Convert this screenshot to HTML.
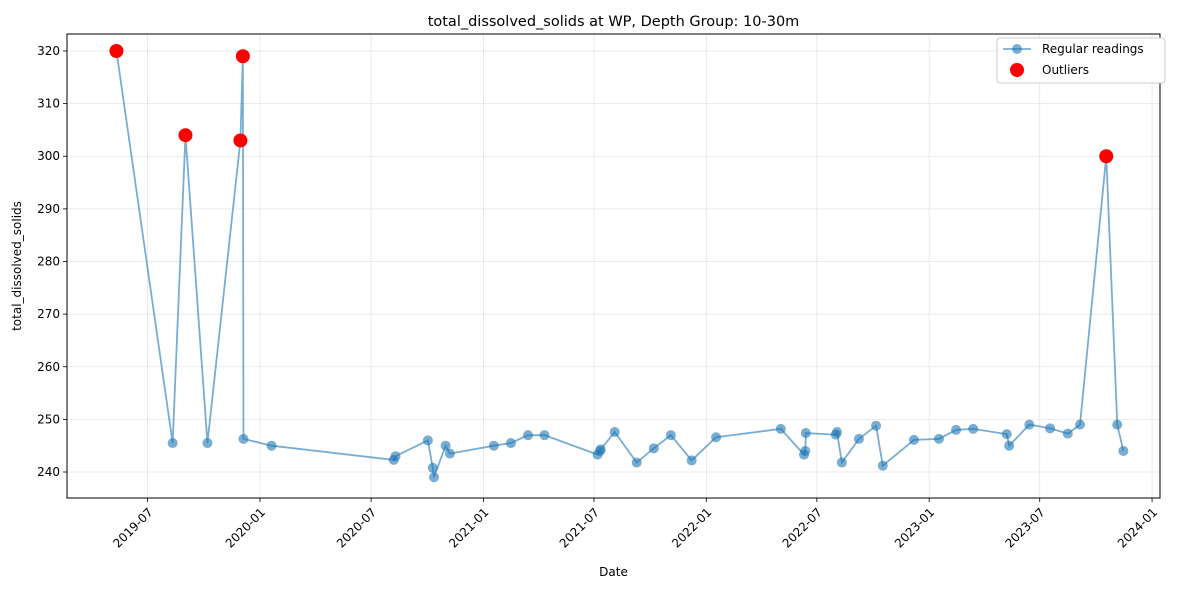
<!DOCTYPE html>
<html><head><meta charset="utf-8"><style>
body{margin:0;background:#fff;font-family:"Liberation Sans","DejaVu Sans",sans-serif}
text{font-family:"DejaVu Sans","Liberation Sans",sans-serif}
</style></head><body>
<svg id="chart" width="1186" height="589" xmlns="http://www.w3.org/2000/svg"></svg>
<script>
const dates=["2019-05-11","2019-08-11","2019-09-01","2019-10-07","2019-11-30","2019-12-04","2019-12-05","2020-01-20","2020-08-07","2020-08-10","2020-10-02","2020-10-10","2020-10-12","2020-10-31","2020-11-07","2021-01-18","2021-02-15","2021-03-15","2021-04-11","2021-07-07","2021-07-11","2021-07-12","2021-08-04","2021-09-09","2021-10-07","2021-11-04","2021-12-08","2022-01-17","2022-05-03","2022-06-10","2022-06-12","2022-06-13","2022-08-01","2022-08-03","2022-08-11","2022-09-08","2022-10-06","2022-10-17","2022-12-07","2023-01-17","2023-02-14","2023-03-14","2023-05-08","2023-05-12","2023-06-14","2023-07-18","2023-08-16","2023-09-05","2023-10-18","2023-11-05","2023-11-15"];
const values=[320,245.5,304,245.5,303,319,246.3,245,242.3,243,246,240.8,239,245,243.5,245,245.5,247,247,243.3,244,244.3,247.6,241.8,244.5,247,242.2,246.6,248.2,243.3,244,247.4,247.1,247.6,241.8,246.3,248.8,241.2,246.1,246.3,248,248.2,247.2,245,249,248.3,247.3,249,300,249,244];
const outlierFlags=[1,0,1,0,1,1,0,0,0,0,0,0,0,0,0,0,0,0,0,0,0,0,0,0,0,0,0,0,0,0,0,0,0,0,0,0,0,0,0,0,0,0,0,0,0,0,0,0,1,0,0];
const xTicks=["2019-07","2020-01","2020-07","2021-01","2021-07","2022-01","2022-07","2023-01","2023-07","2024-01"];
const yTicks=[240,250,260,270,280,290,300,310,320];

const svg=document.getElementById('chart');const NS="http://www.w3.org/2000/svg";
const L=67,R=1160,T=34,B=498;
const t0=Date.parse("2019-02-19"),t1=Date.parse("2024-01-14");
const xs=d=>L+(Date.parse(d.length==7?d+"-01":d)-t0)/(t1-t0)*(R-L);
const y0=235.06,y1=323.23;
const ys=v=>B-(v-y0)/(y1-y0)*(B-T);
function el(tag,a,p){const e=document.createElementNS(NS,tag);for(const k in a)e.setAttribute(k,a[k]);(p||svg).appendChild(e);return e;}
function txt(s,a){const e=el('text',a);e.textContent=s;return e;}
el('rect',{x:0,y:0,width:1186,height:589,fill:'#fff'});
const grid=el('g',{});
xTicks.forEach(t=>{const x=xs(t);
 el('line',{x1:x,x2:x,y1:T,y2:B,stroke:'#e5e5e5','stroke-width':0.8},grid);
 el('line',{x1:x,x2:x,y1:B,y2:B+4,stroke:'#000','stroke-width':0.8});
 const lb=txt(t,{x:0,y:0,'font-size':12,'text-anchor':'end',transform:`translate(${x+6},${B+15}) rotate(-45)`,fill:'#000'});
 });
yTicks.forEach(v=>{const y=ys(v);
 el('line',{x1:L,x2:R,y1:y,y2:y,stroke:'#e5e5e5','stroke-width':0.8},grid);
 el('line',{x1:L-4,x2:L,y1:y,y2:y,stroke:'#000','stroke-width':0.8});
 const lb=txt(String(v),{x:L-7,y:y+4,'font-size':12,'text-anchor':'end',fill:'#000'});
 });
const pts=dates.map((d,i)=>[xs(d),ys(values[i])]);
const line=el('polyline',{points:pts.map(p=>p.join(',')).join(' '),fill:'none',stroke:'#1f77b4','stroke-opacity':0.6,'stroke-width':1.8});

pts.forEach(p=>{const c=el('circle',{cx:p[0],cy:p[1],r:5,fill:'#1f77b4','fill-opacity':0.6});
 });
pts.forEach((p,i)=>{if(outlierFlags[i]){const c=el('circle',{cx:p[0],cy:p[1],r:7,fill:'#ff0000'});
 }});
const fr=el('rect',{x:L,y:T,width:R-L,height:B-T,fill:'none',stroke:'#000','stroke-width':1});

const ti=txt('total_dissolved_solids at WP, Depth Group: 10-30m',{x:(L+R)/2,y:T-8,'font-size':14.5,'text-anchor':'middle'});

const xt=txt('Date',{x:(L+R)/2,y:576,'font-size':12,'text-anchor':'middle'});

const yt=txt('total_dissolved_solids',{x:0,y:0,'font-size':12,'text-anchor':'middle',transform:`translate(21,${(T+B)/2}) rotate(-90)`});

const lg=el('g',{});
el('rect',{x:997,y:38,width:168,height:45,rx:3,fill:'#fff',stroke:'#ccc'},lg);
const e1=el('g',{},lg);
el('line',{x1:1003,x2:1031,y1:49,y2:49,stroke:'#1f77b4','stroke-opacity':0.6,'stroke-width':1.8},e1);
el('circle',{cx:1017,cy:49,r:5,fill:'#1f77b4','fill-opacity':0.6},e1);
const t1e=el('text',{x:1042,y:53,'font-size':12},e1);t1e.textContent='Regular readings';
const e2=el('g',{},lg);
el('circle',{cx:1017,cy:70,r:7,fill:'#ff0000'},e2);
const t2e=el('text',{x:1042,y:74,'font-size':12},e2);t2e.textContent='Outliers';
</script>
</body></html>
